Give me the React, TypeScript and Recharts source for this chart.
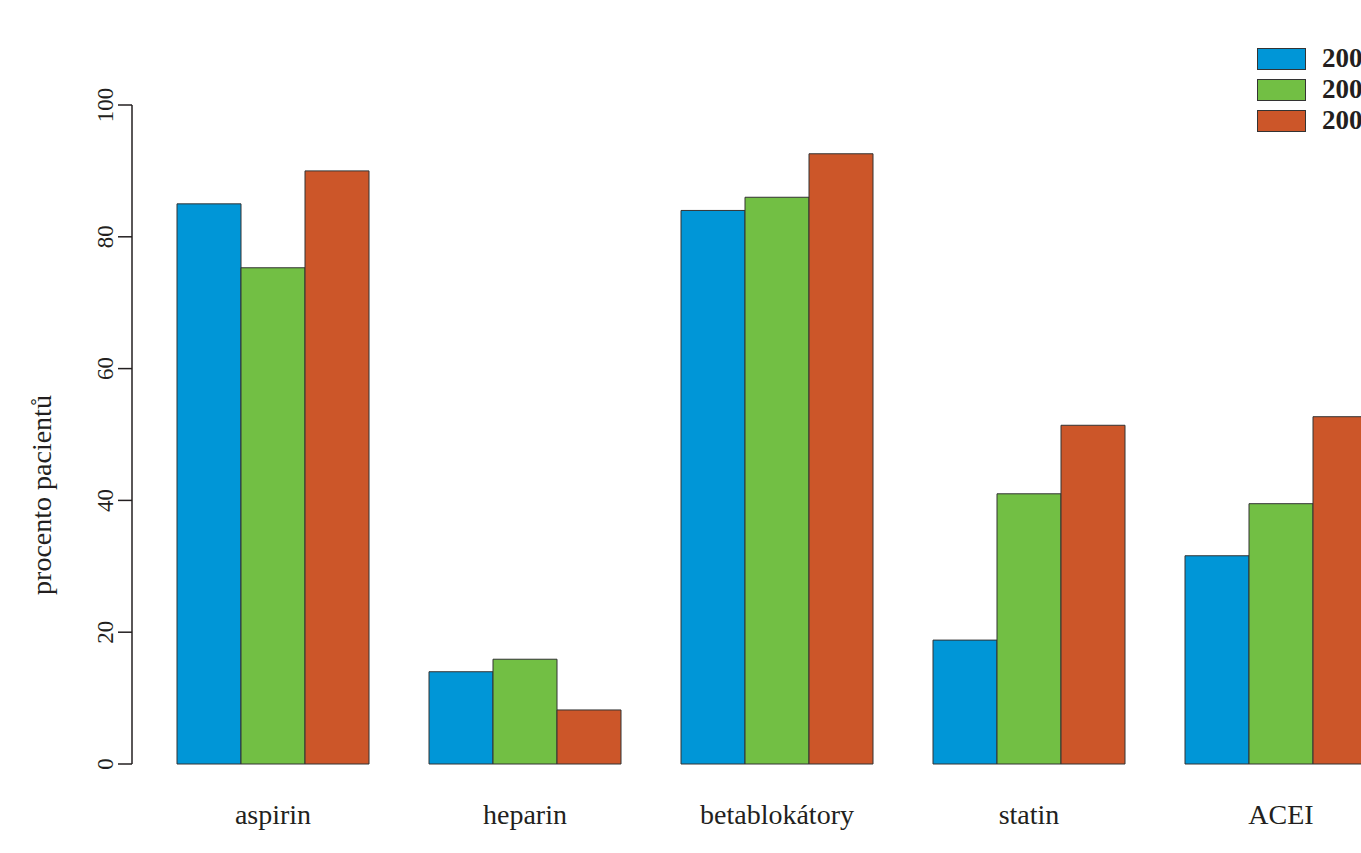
import React from 'react';
import { BarChart, Bar, XAxis, YAxis, Legend } from 'recharts';

// léky a podíl pacientů (%) ve třech obdobích
const drugs = ['aspirin', 'heparin', 'betablokátory', 'statin', 'ACEI'];
const years = ['2000', '2003', '2006'];
const period1 = [85, 14, 84, 18.8, 31.6];
const period2 = [75.3, 15.9, 86, 41, 39.5];
const period3 = [90, 8.2, 92.6, 51.4, 52.7];
const yTicks = [0, 20, 40, 60, 80, 100];

const colors = ['#0096D7', '#72BF44', '#CC5629'];
const keys = ['p1', 'p2', 'p3'];

const data = drugs.map((drug, i) => ({
  drug,
  p1: period1[i],
  p2: period2[i],
  p3: period3[i],
}));

const FONT = '"Liberation Serif", "Times New Roman", serif';
const INK = '#231F20';

const XTick = (props: any) => (
  <text x={props.x} y={824} textAnchor="middle" fontFamily={FONT} fontSize={28} fill={INK}>
    {props.payload.value}
  </text>
);

const YTick = (props: any) => (
  <text
    x={props.x}
    y={props.y}
    transform={`rotate(-90, ${props.x}, ${props.y})`}
    textAnchor="middle"
    fontFamily={FONT}
    fontSize={23}
    fill={INK}
  >
    {props.payload.value}
  </text>
);

const YLabel = () => (
  <text
    x={51}
    y={495}
    transform="rotate(-90, 51, 495)"
    textAnchor="middle"
    fontFamily={FONT}
    fontSize={28}
    fill={INK}
  >
    procento pacientů
  </text>
);

const LegendBox = () => (
  <div style={{ fontFamily: FONT }}>
    {years.map((y, i) => (
      <div key={y} style={{ display: 'flex', alignItems: 'center', height: 31, whiteSpace: 'nowrap' }}>
        <span
          style={{
            display: 'inline-block',
            width: 47,
            height: 20,
            background: colors[i],
            border: '1px solid #333',
          }}
        />
        <span style={{ marginLeft: 16, fontSize: 27, fontWeight: 'bold', color: INK }}>{y}</span>
      </div>
    ))}
  </div>
);

export default function App() {
  return (
    <div style={{ position: 'fixed', left: 0, top: 0, width: 1361, height: 853, overflow: 'hidden', background: '#fff' }}>
      <BarChart
        width={1407}
        height={853}
        data={data}
        margin={{ top: 105, right: 0, bottom: 0, left: 0 }}
        barCategoryGap={30}
        barGap={0}
      >
        <XAxis
          dataKey="drug"
          height={89}
          axisLine={false}
          tickLine={false}
          padding={{ left: 15, right: 0 }}
          tick={<XTick />}
          interval={0}
        />
        <YAxis
          width={132}
          domain={[0, 100]}
          ticks={yTicks}
          tickSize={14}
          tickMargin={5}
          tick={<YTick />}
          axisLine={{ stroke: INK, strokeWidth: 1.5 }}
          tickLine={{ stroke: INK, strokeWidth: 1.5 }}
          label={<YLabel />}
        />
        <Legend
          layout="vertical"
          align="center"
          verticalAlign="middle"
          content={<LegendBox />}
          wrapperStyle={{ position: 'absolute', top: 43, left: 1257, width: 200 }}
        />
        {keys.map((k, i) => (
          <Bar
            key={k}
            dataKey={k}
            name={years[i]}
            fill={colors[i]}
            stroke="#333"
            strokeWidth={1}
            isAnimationActive={false}
          />
        ))}
      </BarChart>
    </div>
  );
}
